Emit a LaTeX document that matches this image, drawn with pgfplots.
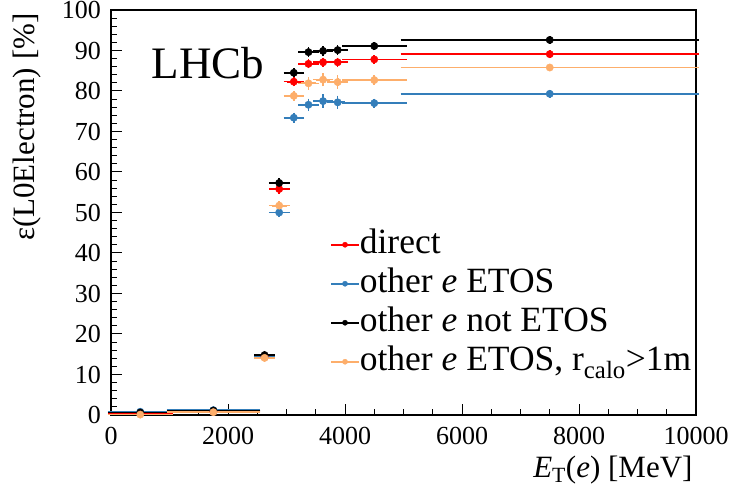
\documentclass[border=0pt]{standalone}
\usepackage{pgfplots}
\pgfplotsset{compat=1.18}
\usepackage{pgfplotstable}
\usepackage{fontspec}
\setmainfont{Liberation Serif}

\definecolor{cred}{RGB}{255,0,0}
\definecolor{cblue}{RGB}{52,126,186}
\definecolor{corange}{RGB}{253,174,107}

\pgfplotstableread{
x ex y ey
500 500 0.5 0.1
1750 750 0.9 0.1
2625 125 14.5 0.3
2875 125 55.8 0.4
3125 125 82.3 0.4
3375 125 86.7 0.4
3625 125 87.1 0.4
3875 125 87.1 0.4
4500 500 87.8 0.3
7500 2500 89.1 0.2
}\direct

\pgfplotstableread{
x ex y ey
500 500 0.8 0.1
1750 750 1.2 0.1
2625 125 14.3 0.3
2875 125 50.0 0.4
3125 125 73.4 0.5
3375 125 76.6 0.8
3625 125 77.5 0.9
3875 125 77.2 0.9
4500 500 77.0 0.4
7500 2500 79.3 0.2
}\etos

\pgfplotstableread{
x ex y ey
500 500 0.6 0.1
1750 750 1.1 0.1
2625 125 14.8 0.3
2875 125 57.3 0.4
3125 125 84.5 0.4
3375 125 89.6 0.4
3625 125 89.9 0.4
3875 125 90.1 0.4
4500 500 91.1 0.3
7500 2500 92.6 0.2
}\notetos

\pgfplotstableread{
x ex y ey
500 500 0.1 0.1
1750 750 0.7 0.1
2625 125 14.1 0.3
2875 125 51.7 0.4
3125 125 78.8 0.5
3375 125 81.9 0.8
3625 125 82.8 0.9
3875 125 82.2 0.9
4500 500 82.7 0.4
7500 2500 85.8 0.2
}\rcalo

\pgfplotsset{
  hep/.style={
    only marks, mark=*, mark size=3.7bp, color=#1,
    error bars/.cd,
      x dir=both, x explicit, y dir=both, y explicit,
      error bar style={line width=1.8bp, color=#1},
      error mark options={line width=1.6bp, mark size=3bp, color=#1},
  },
}

\begin{document}
\begin{tikzpicture}
\useasboundingbox (0,0) rectangle (735bp,498bp);
\begin{axis}[
  at={(111bp,83bp)}, anchor=south west,
  scale only axis, width=585bp, height=405bp,
  xmin=0, xmax=10000, ymin=0, ymax=100,
  xtick={0,2000,4000,6000,8000,10000},
  ytick={0,10,...,100},
  minor x tick num=3, minor y tick num=4,
  scaled x ticks=false,
  /pgf/number format/1000 sep={},
  /pgf/number format/assume math mode=true,
  tick align=inside, xtick pos=bottom, ytick pos=left,
  major tick length=11bp, minor tick length=6bp,
  every tick/.style={black, line width=1bp},
  axis line style={line width=1.6bp},
  tick label style={font=\fontsize{26bp}{30bp}\selectfont},
  yticklabel style={anchor=east, inner sep=0pt, xshift=-10bp},
  xticklabel style={anchor=north, inner sep=0pt, yshift=-12bp},
  clip=false,
  xlabel={\textit{E}\textsubscript{T}(\textit{e}) [MeV]},
  ylabel={ε(L0Electron) [\%]},
  every axis x label/.style={at={(rel axis cs:1,0)}, anchor=base east, yshift=-62bp, font=\fontsize{31bp}{36bp}\selectfont},
  every axis y label/.style={at={(rel axis cs:-0.1436,1)}, anchor=east, rotate=90, font=\fontsize{31bp}{36bp}\selectfont},
  legend cell align=left,
  legend style={draw=none, fill=none, at={(rel axis cs:0.3744,0.469)}, anchor=north west,
    inner sep=0pt, font=\fontsize{35.5bp}{39bp}\selectfont,
    nodes={inner sep=0pt, text height=28bp, text depth=11bp},
    /tikz/every even column/.style={column sep=9bp}},
  legend image code/.code={
    \draw[#1, line width=1.6bp] (0bp,0bp) -- (28bp,0bp);
    \fill[#1] (14bp,0bp) circle (2.6bp);
  },
]
\addplot[hep=cred] table[x=x, y=y, x error=ex, y error=ey] {\direct};
\addlegendentry{direct}
\addplot[hep=cblue] table[x=x, y=y, x error=ex, y error=ey] {\etos};
\addlegendentry{other \textit{e} ETOS}
\addplot[hep=black] table[x=x, y=y, x error=ex, y error=ey] {\notetos};
\addlegendentry{other \textit{e} not ETOS}
\addplot[hep=corange] table[x=x, y=y, x error=ex, y error=ey] {\rcalo};
\addlegendentry{other \textit{e} ETOS, r\textsubscript{calo}>1m}
\node[font=\fontsize{45bp}{50bp}\selectfont] at (rel axis cs:0.166,0.869) {LHCb};
\end{axis}
\end{tikzpicture}
\end{document}
